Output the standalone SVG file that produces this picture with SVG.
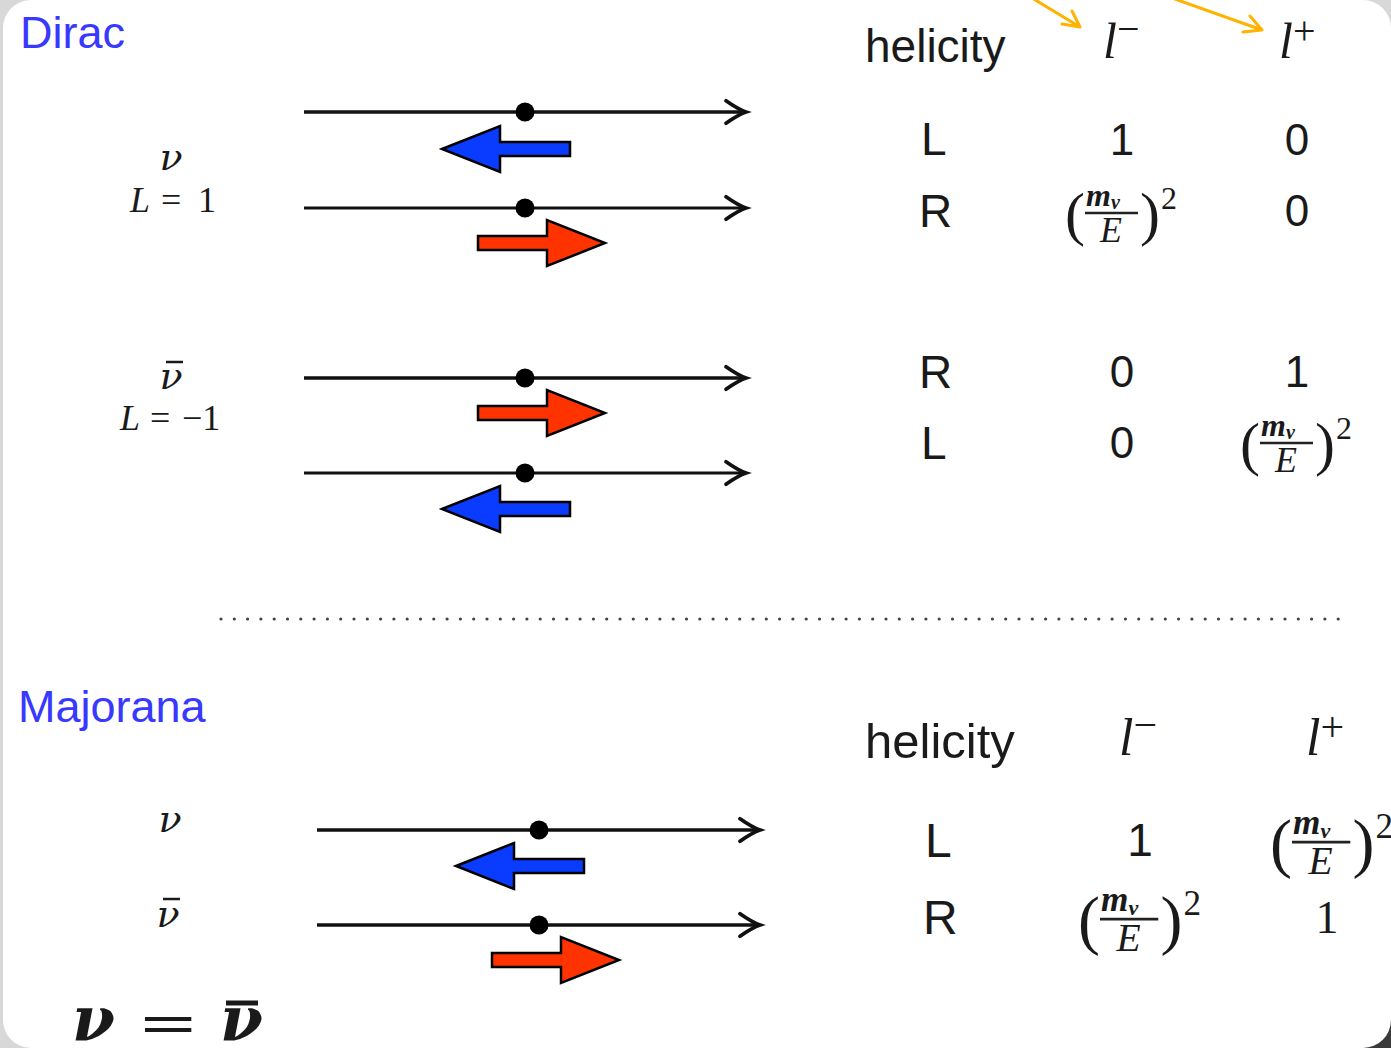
<svg xmlns="http://www.w3.org/2000/svg" width="1391" height="1048" viewBox="0 0 1391 1048">
<style>
.title{font-family:"Liberation Sans",Arial,sans-serif;fill:#3838ff;font-size:45px}
.sans{font-family:"Liberation Sans",Arial,sans-serif;fill:#1a1a1a}
.math{font-family:"Liberation Serif","Times New Roman",serif;fill:#1a1a1a}
.nu{font-family:"DejaVu Serif","Liberation Serif",serif;font-style:italic;fill:#1a1a1a}
.it{font-style:italic}
.ln{stroke:#111;stroke-width:3.5;fill:none}
.dot{fill:#000}
.blue{fill:#0a3cff;stroke:#000;stroke-width:2.5;stroke-linejoin:miter}
.red{fill:#ff3300;stroke:#000;stroke-width:2.5;stroke-linejoin:miter}
.bar{stroke:#222;stroke-width:2.5}
.ovl{stroke:#1a1a1a;stroke-width:2.5}
.yel{stroke:#ffb300;stroke-width:3;fill:none;stroke-linecap:round;stroke-linejoin:round}
</style>
<defs>
<marker id="ah" markerUnits="userSpaceOnUse" markerWidth="30" markerHeight="30" refX="0" refY="0" viewBox="-20 -12 24 24" orient="auto" overflow="visible">
<path d="M-16,-9 Q-6,-2 0,0 Q-6,2 -16,9" fill="none" stroke="#111" stroke-width="3" stroke-linecap="round"/>
</marker>
<path id="larrow" d="M0,0 L58,-23 L58,-7 L128,-7 L128,7 L58,7 L58,23 Z"/>
<path id="rarrow" d="M0,-7 L69,-7 L69,-23 L127,0 L69,23 L69,7 L0,7 Z"/>
</defs>
<rect x="0" y="0" width="1391" height="1048" fill="#d8d8d8"/>
<rect x="1330" y="990" width="61" height="58" fill="#3a3a3a"/>
<rect x="3" y="0" width="1388" height="1048" rx="28" ry="28" fill="#ffffff"/>

<g id="dirac-title"><text class="title" x="20" y="48">Dirac</text></g>
<g id="majorana-title"><text class="title" x="18" y="722">Majorana</text></g>

<g id="connectors">
<path class="yel" d="M1032,-2 L1080,27 M1062,24 L1080,27 L1072,11"/>
<path class="yel" d="M1172,-2 L1262,30 M1243,32 L1262,30 L1250,16"/>
<line class="ln" x1="304" y1="112" x2="746" y2="112" marker-end="url(#ah)"/>
<line class="ln" x1="304" y1="208" x2="746" y2="208" marker-end="url(#ah)" style="stroke-width:3"/>
<line class="ln" x1="304" y1="378" x2="746" y2="378" marker-end="url(#ah)"/>
<line class="ln" x1="304" y1="473" x2="746" y2="473" marker-end="url(#ah)" style="stroke-width:3"/>
<line class="ln" x1="317" y1="830" x2="760" y2="830" marker-end="url(#ah)"/>
<line class="ln" x1="317" y1="925" x2="760" y2="925" marker-end="url(#ah)"/>
<line x1="221" y1="619" x2="1340" y2="619" stroke="#444" stroke-width="3.2" stroke-dasharray="0 13.3" stroke-linecap="round"/>
</g>

<g id="dirac-nu">
<circle class="dot" cx="525" cy="112" r="9.5"/>
<use href="#larrow" class="blue" x="442" y="149"/>
<circle class="dot" cx="525" cy="208" r="9.5"/>
<use href="#rarrow" class="red" x="478" y="243"/>
<text class="nu" x="171" y="170" font-size="38" text-anchor="middle">ν</text>
<text class="math" y="212" font-size="36"><tspan class="it" x="130">L</tspan><tspan x="161">=</tspan><tspan x="198">1</tspan></text>
</g>

<g id="dirac-nubar">
<circle class="dot" cx="525" cy="378" r="9.5"/>
<use href="#rarrow" class="red" x="478" y="413"/>
<circle class="dot" cx="525" cy="473" r="9.5"/>
<use href="#larrow" class="blue" x="442" y="509"/>
<text class="nu" x="171" y="389" font-size="38" text-anchor="middle">ν</text>
<line class="ovl" x1="166" y1="362" x2="183" y2="362"/>
<text class="math" y="430" font-size="36"><tspan class="it" x="120">L</tspan><tspan x="150">=</tspan><tspan x="182">−1</tspan></text>
</g>

<g id="dirac-table">
<text class="sans" x="865" y="62" font-size="46">helicity</text>
<text class="math" x="1103" y="58" font-size="50"><tspan class="it">l</tspan><tspan font-size="40" dy="-16">−</tspan></text>
<text class="math" x="1279" y="58" font-size="50"><tspan class="it">l</tspan><tspan font-size="40" dy="-14">+</tspan></text>
<text class="sans" x="921" y="155" font-size="46">L</text>
<text class="sans" x="1122" y="155" font-size="44" text-anchor="middle">1</text>
<text class="sans" x="1297" y="155" font-size="44" text-anchor="middle">0</text>
<text class="sans" x="919" y="227" font-size="46">R</text>
<g transform="translate(1065,213)">
<text class="math" x="0" y="21" font-size="60">(</text>
<text class="math it" x="21" y="-7" font-size="32" font-weight="bold">m<tspan font-size="20" dy="3">ν</tspan></text>
<line class="bar" x1="20" y1="0" x2="73" y2="0"/>
<text class="math it" x="46" y="29" font-size="36" text-anchor="middle">E</text>
<text class="math" x="75" y="21" font-size="60">)</text>
<text class="math" x="96" y="-4" font-size="32">2</text>
</g>
<text class="sans" x="1297" y="226" font-size="44" text-anchor="middle">0</text>
<text class="sans" x="919" y="388" font-size="46">R</text>
<text class="sans" x="1122" y="387" font-size="44" text-anchor="middle">0</text>
<text class="sans" x="1297" y="387" font-size="44" text-anchor="middle">1</text>
<text class="sans" x="921" y="459" font-size="46">L</text>
<text class="sans" x="1122" y="458" font-size="44" text-anchor="middle">0</text>
<g transform="translate(1240,443)">
<text class="math" x="0" y="21" font-size="60">(</text>
<text class="math it" x="21" y="-7" font-size="32" font-weight="bold">m<tspan font-size="20" dy="3">ν</tspan></text>
<line class="bar" x1="20" y1="0" x2="73" y2="0"/>
<text class="math it" x="46" y="29" font-size="36" text-anchor="middle">E</text>
<text class="math" x="75" y="21" font-size="60">)</text>
<text class="math" x="96" y="-4" font-size="32">2</text>
</g>
</g>

<g id="majorana-nu">
<circle class="dot" cx="539" cy="830" r="9.5"/>
<use href="#larrow" class="blue" x="456" y="866"/>
<text class="nu" x="170" y="832" font-size="38" text-anchor="middle">ν</text>
</g>
<g id="majorana-nubar">
<circle class="dot" cx="539" cy="925" r="9.5"/>
<use href="#rarrow" class="red" x="492" y="960"/>
<text class="nu" x="168" y="927" font-size="38" text-anchor="middle">ν</text>
<line class="ovl" x1="163" y1="899" x2="180" y2="899"/>
</g>

<g id="majorana-table">
<text class="sans" x="865" y="758" font-size="49">helicity</text>
<text class="math" x="1119" y="755" font-size="52"><tspan class="it">l</tspan><tspan font-size="42" dy="-16">−</tspan></text>
<text class="math" x="1306" y="755" font-size="52"><tspan class="it">l</tspan><tspan font-size="42" dy="-14">+</tspan></text>
<text class="sans" x="925" y="857" font-size="48">L</text>
<text class="sans" x="1140" y="856" font-size="46" text-anchor="middle">1</text>
<g transform="translate(1270,842) scale(1.1)">
<text class="math" x="0" y="21" font-size="60">(</text>
<text class="math it" x="21" y="-7" font-size="32" font-weight="bold">m<tspan font-size="20" dy="3">ν</tspan></text>
<line class="bar" x1="20" y1="0" x2="73" y2="0"/>
<text class="math it" x="46" y="29" font-size="36" text-anchor="middle">E</text>
<text class="math" x="75" y="21" font-size="60">)</text>
<text class="math" x="96" y="-4" font-size="32">2</text>
</g>
<text class="sans" x="923" y="934" font-size="48">R</text>
<g transform="translate(1078,919) scale(1.1)">
<text class="math" x="0" y="21" font-size="60">(</text>
<text class="math it" x="21" y="-7" font-size="32" font-weight="bold">m<tspan font-size="20" dy="3">ν</tspan></text>
<line class="bar" x1="20" y1="0" x2="73" y2="0"/>
<text class="math it" x="46" y="29" font-size="36" text-anchor="middle">E</text>
<text class="math" x="75" y="21" font-size="60">)</text>
<text class="math" x="96" y="-4" font-size="32">2</text>
</g>
<text class="math" x="1327" y="933" font-size="46" text-anchor="middle">1</text>
</g>

<g id="equation">
<text class="nu" x="72" y="1040" font-size="62" font-weight="bold">ν</text>
<text class="math" transform="translate(140,1043) scale(1.75,1)" font-size="57" font-weight="bold">=</text>
<text class="nu" x="220" y="1040" font-size="62" font-weight="bold">ν</text>
<line class="ovl" x1="226" y1="1003" x2="258" y2="1003" style="stroke-width:5"/>
</g>
</svg>
